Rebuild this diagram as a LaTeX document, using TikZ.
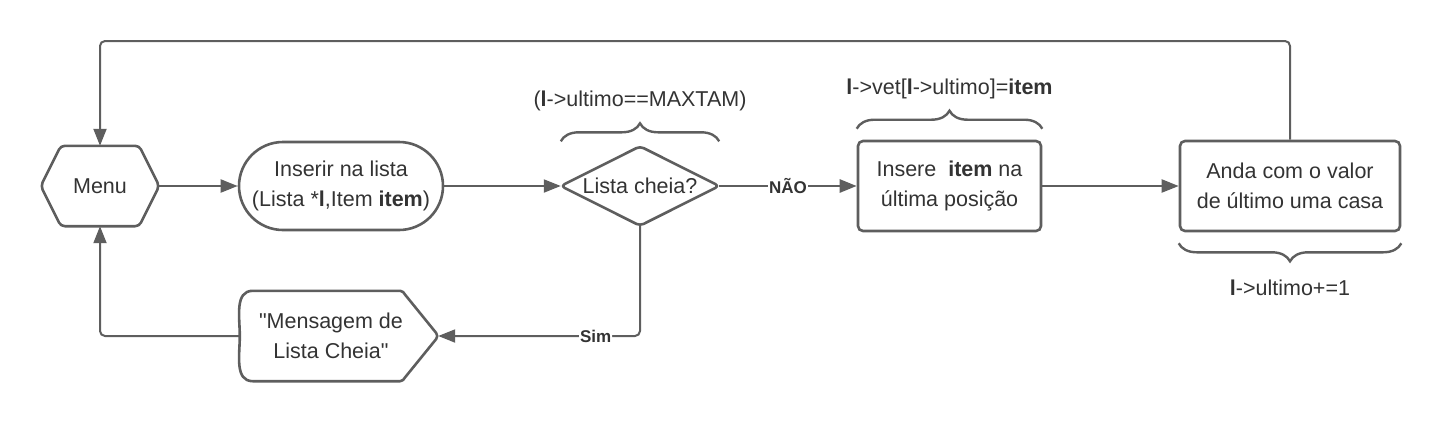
\documentclass[tikz,border=0pt]{standalone}
\usepackage{fontspec}
\setmainfont{Liberation Sans}
\usetikzlibrary{arrows.meta,decorations.pathreplacing,calc}
\definecolor{ln}{HTML}{5E5E5E}
\definecolor{tx}{HTML}{333333}
\begin{document}
\begin{tikzpicture}[x=1pt,y=-1pt,
  box/.style={draw=ln, line width=2.6pt, inner sep=0pt, align=center, text=tx, font=\fontsize{21.5}{30}\selectfont},
  ghost/.style={draw=none, inner sep=0pt, align=center, text=tx, font=\fontsize{21.5}{30}\selectfont},
  outline/.style={draw=ln, line width=2.6pt, rounded corners=4pt, line join=round},
  plainoutline/.style={draw=ln, line width=2.6pt, line join=round},
  conn/.style={draw=ln, line width=2pt, -{Triangle[length=17pt,width=13pt]}, rounded corners=5pt},
  lbl/.style={fill=white, inner sep=1pt, text=tx, font=\bfseries\fontsize{17}{19}\selectfont},
  note/.style={text=tx, font=\fontsize{21.5}{26}\selectfont, inner sep=0pt},
  bracepath/.style={draw=ln, line width=2.4pt, decorate, decoration={brace, amplitude=18pt}}
]
\useasboundingbox (0,0) rectangle (1450,421);

% nodes
\node[ghost, minimum width=118pt, minimum height=80pt] (menu) at (100,186) {Menu};
\draw[outline] (menu.west) -- ([xshift=20pt]menu.north west) -- ([xshift=-20pt]menu.north east) -- (menu.east) -- ([xshift=-20pt]menu.south east) -- ([xshift=20pt]menu.south west) -- cycle;

\node[box, rounded corners=44pt, minimum width=204pt, minimum height=88pt] (ins) at (341,186) {Inserir na lista\\(Lista *\textbf{l},Item \textbf{item})};

\node[ghost, minimum width=158pt, minimum height=79pt] (dia) at (640,186) {Lista cheia?};
\draw[outline] (dia.west) -- (dia.north) -- (dia.east) -- (dia.south) -- cycle;

\node[box, rounded corners=5pt, minimum width=183pt, minimum height=90pt] (ins2) at (949.5,186) {Insere\ \ \textbf{item} na\\última posição};

\node[box, rounded corners=5pt, minimum width=220pt, minimum height=90pt] (anda) at (1290,186) {Anda com o valor\\de último uma casa};

\node[ghost, minimum width=198pt, minimum height=90pt] (msg) at (339,336) {};
\draw[plainoutline] (msg.west) to[out=90,in=180] ([xshift=13pt]msg.north west)
  -- ([xshift=-38pt]msg.north east) to[out=0,in=125] ([xshift=-33pt,yshift=-4pt]msg.north east)
  -- ([xshift=-2pt,yshift=3pt]msg.east) to[out=-55,in=55] ([xshift=-2pt,yshift=-3pt]msg.east)
  -- ([xshift=-33pt,yshift=4pt]msg.south east) to[out=-125,in=0] ([xshift=-38pt]msg.south east)
  -- ([xshift=13pt]msg.south west) to[out=180,in=-90] (msg.west) -- cycle;
\node[ghost] (msgt) at ([xshift=-8pt]msg.center) {\textquotedbl Mensagem de\\Lista Cheia\textquotedbl};

% connectors
\coordinate (topy) at (0,41);
\draw[conn] (anda.north) -- (anda.north |- topy) -- (menu.north |- topy) -- (menu.north);
\draw[conn] (menu.east) -- (ins.west);
\draw[conn] (ins.east) -- (dia.west);
\draw[conn, line width=2.6pt] (dia.east) -- node[lbl]{NÃO} (ins2.west);
\draw[conn] (ins2.east) -- (anda.west);
\draw[conn] (dia.south) |- node[lbl, pos=0.61]{Sim} (msg.east);
\draw[conn] (msg.west) -| (menu.south);

% braces
\draw[bracepath] ([yshift=5pt]dia.north west) -- ([yshift=5pt]dia.north east);
\draw[bracepath] ([yshift=11pt]ins2.north west) -- ([yshift=11pt]ins2.north east);
\draw[bracepath] ([yshift=-11pt]anda.south east) -- ([yshift=-11pt]anda.south west);

% notes
\node[note] (cond) at (640,101) {(\textbf{l}->ultimo==MAXTAM)};
\node[note] (vet) at (949.5,89) {\textbf{l}->vet[\textbf{l}->ultimo]=\textbf{item}};
\node[note] (inc) at (1290,288) {\textbf{l}->ultimo+=1};
\end{tikzpicture}
\end{document}
